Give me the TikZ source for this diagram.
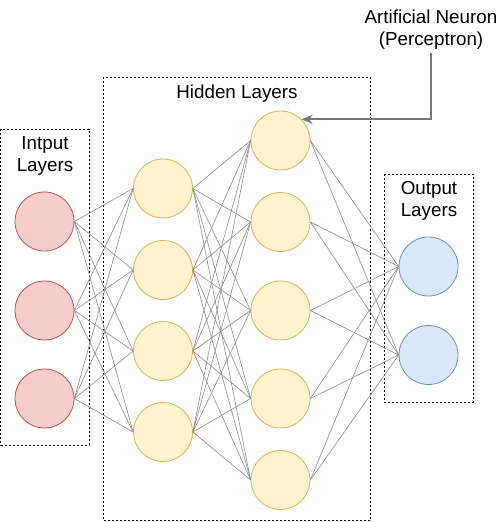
\documentclass[tikz,border=0pt]{standalone}
\usepackage{fontspec}
\setmainfont{Liberation Sans}
\usepackage{color}
\definecolor{inred}{RGB}{248,206,204}
\definecolor{inredline}{RGB}{184,84,80}
\definecolor{hidyellow}{RGB}{255,242,204}
\definecolor{hidyellowline}{RGB}{214,182,86}
\definecolor{outblue}{RGB}{218,232,252}
\definecolor{outblueline}{RGB}{108,142,191}
\definecolor{wiregray}{RGB}{140,140,140}
\definecolor{pointergray}{RGB}{120,120,120}
\usepackage{tikz}
\usetikzlibrary{arrows.meta,positioning}
\tikzstyle{neuron}=[draw,circle,minimum size=59pt,inner sep=0pt,line width=0.8pt]
\tikzstyle{inneuron}=[neuron,fill=inred,draw=inredline]
\tikzstyle{hidneuron}=[neuron,fill=hidyellow,draw=hidyellowline]
\tikzstyle{outneuron}=[neuron,fill=outblue,draw=outblueline]
\tikzstyle{layerbox}=[draw,dash pattern=on 2pt off 2pt,line width=0.7pt]
\tikzstyle{wire}=[draw=wiregray,line width=0.6pt]
\tikzstyle{layertext}=[font=\fontsize{18.8}{22}\selectfont,align=center]
\tikzstyle{pointer}=[draw=pointergray,line width=2pt,-{Stealth[length=11pt,width=9pt]}]

\begin{document}
\begin{tikzpicture}[x=1pt,y=-1pt]
\useasboundingbox (0,0) rectangle (500,522);

% dashed layer boxes
\draw[layerbox] (0.6,129) rectangle (89,445);
\draw[layerbox] (103,77) rectangle (370,520.5);
\draw[layerbox] (384,174) rectangle (473,402);

% input layer
\node [inneuron] (in1) at (44.5,221.5) {};
\node [inneuron] (in2) at (44.5,310.5) {};
\node [inneuron] (in3) at (44.5,398.5) {};

% first hidden layer
\node [hidneuron] (ha1) at (163,188.5) {};
\node [hidneuron] (ha2) at (163,270) {};
\node [hidneuron] (ha3) at (163,351) {};
\node [hidneuron] (ha4) at (163,432) {};

% second hidden layer
\node [hidneuron] (hb1) at (280.5,140.5) {};
\node [hidneuron] (hb2) at (280.5,222) {};
\node [hidneuron] (hb3) at (280.5,310.5) {};
\node [hidneuron] (hb4) at (280.5,398.5) {};
\node [hidneuron] (hb5) at (280.5,480) {};

% output layer
\node [outneuron] (out1) at (428.5,266.5) {};
\node [outneuron] (out2) at (428.5,355) {};

% labels
\node [layertext] (inlabel) at (45,156) {Intput\\Layers};
\node [layertext] (hidlabel) at (237,94) {Hidden Layers};
\node [layertext] (outlabel) at (429,201) {Output\\Layers};
\node [layertext,anchor=south] (percep) at (431,53) {Artificial Neuron\\(Perceptron)};

% connections
\foreach \a in {1,2,3}
  \foreach \b in {1,...,4}
    \draw [wire] (in\a.east) -- (ha\b.west);
\foreach \a in {1,...,4}
  \foreach \b in {1,...,5}
    \draw [wire] (ha\a.east) -- (hb\b.west);
\foreach \a in {1,...,5}
  \foreach \b in {1,2}
    \draw [wire] (hb\a.east) -- (out\b.west);

\draw [pointer] (percep.south) |- (hb1.north east);
\end{tikzpicture}
\end{document}
